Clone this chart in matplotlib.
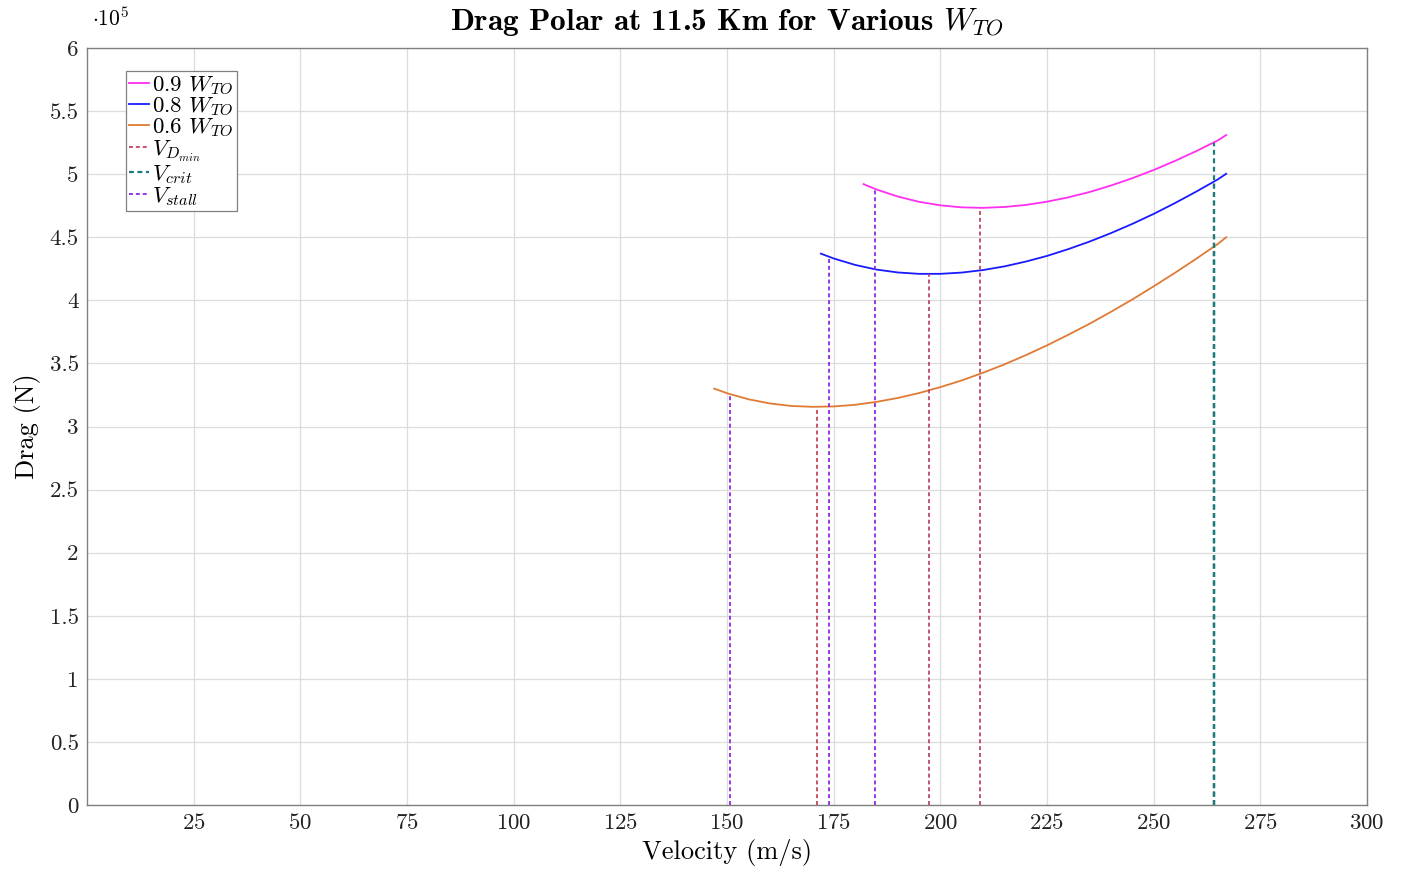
import matplotlib
matplotlib.use("Agg")
import matplotlib.pyplot as plt

plt.rcParams["font.family"] = "cmr10"
plt.rcParams["mathtext.fontset"] = "cm"
plt.rcParams["axes.formatter.use_mathtext"] = True

# drag values are in units of 1e5 N
vel_09 = [182, 185, 190, 195, 200, 205, 210, 215, 220, 225, 230, 235, 240, 245, 250, 255, 260, 265, 267]
drag_09 = [4.921, 4.879, 4.823, 4.781, 4.753, 4.737, 4.733, 4.74, 4.756, 4.782, 4.816, 4.859,
           4.91, 4.968, 5.033, 5.105, 5.183, 5.267, 5.31]

vel_08 = [172, 175, 180, 185, 190, 195, 200, 205, 210, 215, 220, 225, 230, 235, 240, 245, 250,
          255, 260, 265, 267]
drag_08 = [4.37, 4.332, 4.281, 4.244, 4.221, 4.21, 4.21, 4.22, 4.24, 4.269, 4.307, 4.352, 4.406,
           4.466, 4.533, 4.606, 4.685, 4.771, 4.862, 4.958, 5.003]

vel_06 = [147, 150, 155, 160, 165, 170, 175, 180, 185, 190, 195, 200, 205, 210, 215, 220, 225,
          230, 235, 240, 245, 250, 255, 260, 265, 267]
drag_06 = [3.30, 3.264, 3.216, 3.183, 3.163, 3.156, 3.159, 3.172, 3.195, 3.226, 3.265, 3.312,
           3.365, 3.426, 3.492, 3.565, 3.643, 3.727, 3.815, 3.909, 4.007, 4.111, 4.218, 4.33,
           4.446, 4.5]

# reference speeds (m/s) and the drag where each vertical line stops
v_dmin = [209.2, 197.3, 171.1]
d_dmin = [4.733, 4.21, 3.155]
v_crit = [264.1, 264.1, 264.1]
d_crit = [5.25, 4.94, 4.42]
v_stall = [184.6, 174.0, 150.7]
d_stall = [4.88, 4.34, 3.25]

labels = [r"0.9 $W_{TO}$", r"0.8 $W_{TO}$", r"0.6 $W_{TO}$"]
colors = ["#ff2ef0", "#1a1aff", "#e07a35"]
c_dmin = "#c24663"
c_crit = "#1f7a7a"
c_stall = "#8a2be2"

fig = plt.figure(figsize=(14.03, 8.73), dpi=100)
ax = fig.add_axes([87 / 1403, 1 - 805 / 873, (1367 - 87) / 1403, (805 - 48) / 873])

for v, d, lab, c in zip([vel_09, vel_08, vel_06], [drag_09, drag_08, drag_06], labels, colors):
    ax.plot(v, d, color=c, lw=1.3, label=lab)

dash = (0, (2.2, 1.6))
for i in range(3):
    ax.plot([v_dmin[i], v_dmin[i]], [0, d_dmin[i]], color=c_dmin, lw=1.3, ls=dash,
            label=r"$V_{D_{min}}$" if i == 0 else None)
for i in range(3):
    ax.plot([v_crit[i], v_crit[i]], [0, d_crit[i]], color=c_crit, lw=1.6, ls=dash,
            label=r"$V_{crit}$" if i == 0 else None)
for i in range(3):
    ax.plot([v_stall[i], v_stall[i]], [0, d_stall[i]], color=c_stall, lw=1.3, ls=dash,
            label=r"$V_{stall}$" if i == 0 else None)

ax.set_xlim(0, 300)
ax.set_ylim(0, 6)
ax.set_xticks(range(25, 301, 25))
yt = [i * 0.5 for i in range(13)]
ax.set_yticks(yt)
ax.set_yticklabels(["%g" % t for t in yt])
ax.tick_params(length=0, labelsize=16.5, pad=6, labelcolor="#222222")
ax.grid(True, color="#dcdcdc", lw=0.9)
ax.set_axisbelow(True)
for s in ax.spines.values():
    s.set_color("#808080")
    s.set_linewidth(1.0)

ax.set_xlabel("Velocity (m/s)", fontsize=19, labelpad=4)
ax.set_ylabel("Drag (N)", fontsize=19, labelpad=6)
ax.set_title(r"Drag Polar at 11.5 Km for Various $W_{TO}$",
             fontproperties={"family": "cmb10", "size": 22.5}, pad=13)
fig.text(92 / 1403, 1 - 18 / 873, r"$\cdot 10^5$", fontsize=15.5, va="center", ha="left")

leg = ax.legend(loc="upper left", bbox_to_anchor=(126 / 1403, 1 - 71 / 873),
                bbox_transform=fig.transFigure, borderaxespad=0, fontsize=16.5,
                handlelength=0.85, handletextpad=0.15, labelspacing=-0.04,
                borderpad=0.15, fancybox=False, framealpha=1)
leg.get_frame().set_edgecolor("#808080")
leg.get_frame().set_linewidth(0.9)

fig.savefig("out.png", dpi=100)
